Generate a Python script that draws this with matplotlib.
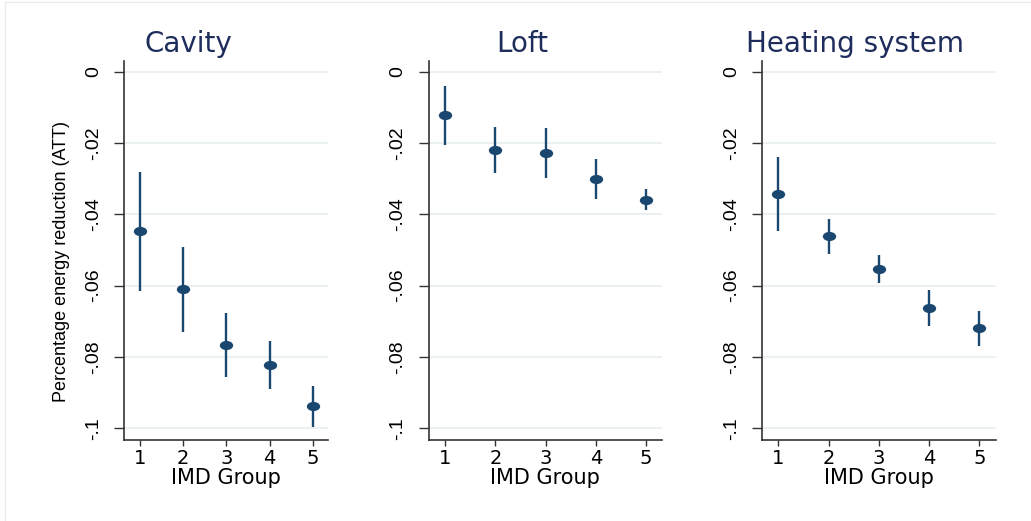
import numpy as np
import matplotlib.pyplot as plt
from matplotlib.path import Path
from matplotlib.lines import Line2D

plt.rcParams['font.family'] = ['DejaVu Sans']

# data (point estimate, lower CI, upper CI)
groups = [1, 2, 3, 4, 5]
cavity_est = [-0.0447, -0.0610, -0.0767, -0.0823, -0.0937]
cavity_lo = [-0.0614, -0.0729, -0.0857, -0.0891, -0.0995]
cavity_hi = [-0.0280, -0.0493, -0.0678, -0.0755, -0.0880]
loft_est = [-0.0122, -0.0220, -0.0228, -0.0301, -0.0359]
loft_lo = [-0.0206, -0.0285, -0.0298, -0.0356, -0.0388]
loft_hi = [-0.0039, -0.0154, -0.0159, -0.0245, -0.0330]
heat_est = [-0.0344, -0.0461, -0.0553, -0.0662, -0.0719]
heat_lo = [-0.0447, -0.0510, -0.0593, -0.0712, -0.0768]
heat_hi = [-0.0240, -0.0412, -0.0514, -0.0613, -0.0672]

titles = ["Cavity", "Loft", "Heating system"]
ytick_vals = [0, -0.02, -0.04, -0.06, -0.08, -0.1]
ytick_labels = ["0", "-.02", "-.04", "-.06", "-.08", "-.1"]

navy = '#1a476f'
titleColor = '#1e2d5c'
axisColor = '#333333'
gridColor = '#e6eef0'
vertFont = 'Liberation Sans'

# slightly wide ellipse marker (reference is horizontally stretched)
circ = Path.unit_circle()
ellipse = Path(circ.vertices * np.array([1.45, 1.0]), circ.codes)

fig = plt.figure(figsize=(10.31, 5.21), dpi=100)

W, H = 1031, 521
boxes = [(124, 328), (428.7, 662), (762, 995.7)]
xlims = [(0.63, 5.354), (0.669, 5.32), (0.676, 5.326)]
title_x = [188, 522, 855]
top_px, bot_px = 60.7, 440

series = [(cavity_est, cavity_lo, cavity_hi),
          (loft_est, loft_lo, loft_hi),
          (heat_est, heat_lo, heat_hi)]

for i, (est, lo, hi) in enumerate(series):
    l, r = boxes[i]
    ax = fig.add_axes([l / W, 1 - bot_px / H, (r - l) / W, (bot_px - top_px) / H])
    est = np.array(est)
    yerr = [est - np.array(lo), np.array(hi) - est]
    ax.errorbar(groups, est, yerr=yerr, fmt='none', ecolor=navy, elinewidth=1.7,
                capsize=0, zorder=3)
    ax.plot(groups, est, ls='', marker=ellipse, ms=9.6, color=navy, mew=0, zorder=4)

    ax.set_ylim(-0.10328, 0.00308)
    ax.set_xlim(*xlims[i])
    ax.set_yticks(ytick_vals)
    ax.set_yticklabels(ytick_labels, rotation=90, va='center', fontsize=14,
                       family=vertFont)
    ax.set_xticks(groups)
    ax.set_xticklabels([str(g) for g in groups], fontsize=14)
    ax.tick_params(axis='y', length=7, width=1, color=axisColor, pad=9)
    ax.tick_params(axis='x', length=4.5, width=1, color=axisColor, pad=2)
    ax.grid(axis='y', color=gridColor, lw=1.1, zorder=0)
    ax.set_axisbelow(True)
    for s in ['top', 'right']:
        ax.spines[s].set_visible(False)
    for s in ['left', 'bottom']:
        ax.spines[s].set_color(axisColor)
        ax.spines[s].set_linewidth(1.2)
    ax.set_xlabel("IMD Group", fontsize=15, labelpad=0)

    fig.text(title_x[i] / W, 1 - 51.5 / H, titles[i], fontsize=20, color=titleColor,
             ha='center', va='baseline')

fig.text(62 / W, 0.5 - 1 / H, "Percentage energy reduction (ATT)", rotation=90,
         ha='center', va='center', fontsize=13, family=vertFont)

# faint outer frame lines (top and left)
fig.add_artist(Line2D([5 / W, 1], [1 - 1.5 / H, 1 - 1.5 / H], transform=fig.transFigure,
                      color='#e8eeee', lw=1))
fig.add_artist(Line2D([5 / W, 5 / W], [0, 1 - 1.5 / H], transform=fig.transFigure,
                      color='#e8eeee', lw=1))

plt.savefig('out.png', dpi=100)
